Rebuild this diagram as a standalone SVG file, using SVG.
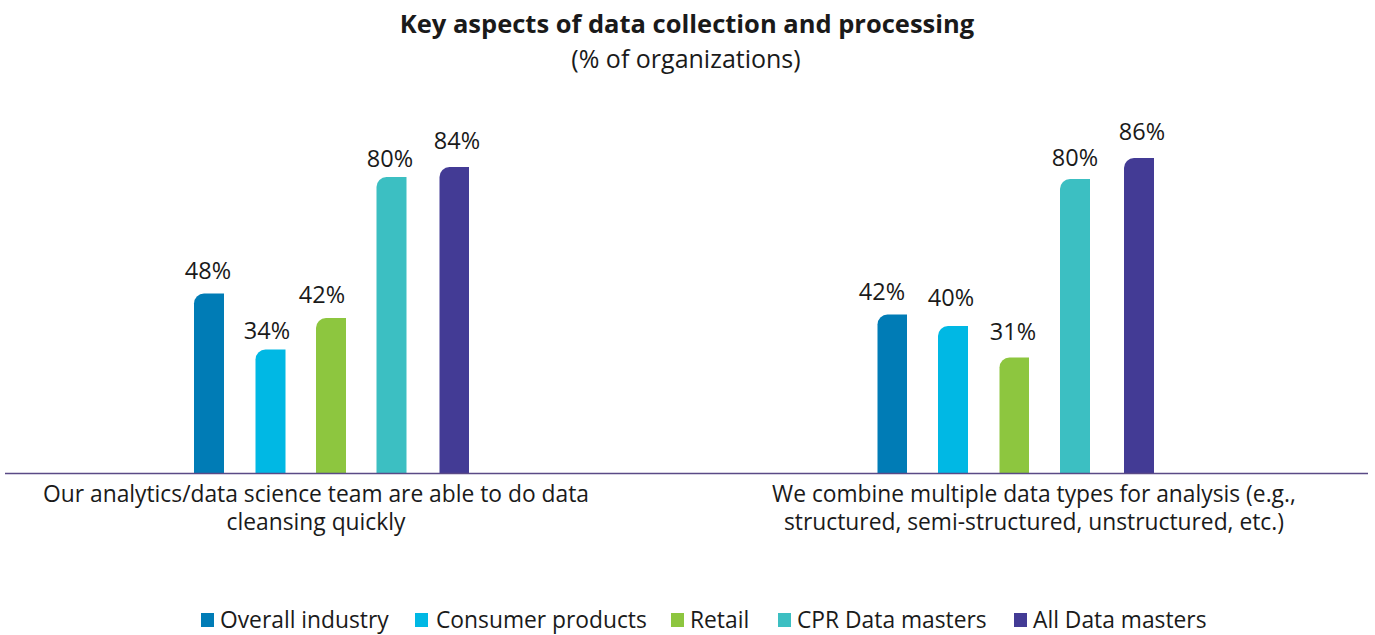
<svg xmlns="http://www.w3.org/2000/svg" width="1375" height="635" viewBox="0 0 1375 635">
<style>
text{font-family:"Open Sans","Noto Sans","Liberation Sans",sans-serif;fill:#1a1a1a}
.t{font-size:25.5px;font-weight:bold}
.s{font-size:25px}
.v{font-size:23.5px;text-anchor:middle}
.c{font-size:22.8px;text-anchor:middle}
.l{font-size:22.8px}
.c1{fill:#007cb6}.c2{fill:#00b8e4}.c3{fill:#8dc63f}.c4{fill:#3cbfc2}.c5{fill:#433b95}
</style>
<rect width="1375" height="635" fill="#ffffff"/>
<g id="title">
<text class="t" x="687" y="33" text-anchor="middle">Key aspects of data collection and processing</text>
<text class="s" x="686" y="67.5" text-anchor="middle">(% of organizations)</text>
</g>
<g id="group1">
<path class="c1" d="M194,473V303.5A10,10 0 0 1 204,293.5H224V473Z"/>
<path class="c2" d="M255.5,473V359.5A10,10 0 0 1 265.5,349.5H285.5V473Z"/>
<path class="c3" d="M316,473V328A10,10 0 0 1 326,318H346V473Z"/>
<path class="c4" d="M376.5,473V187A10,10 0 0 1 386.5,177H406.5V473Z"/>
<path class="c5" d="M439.5,473V177A10,10 0 0 1 449.5,167H469V473Z"/>
<text class="v" x="208" y="279">48%</text>
<text class="v" x="267" y="339">34%</text>
<text class="v" x="322" y="303">42%</text>
<text class="v" x="390" y="167">80%</text>
<text class="v" x="457" y="149">84%</text>
<text class="c" x="316" y="502">Our analytics/data science team are able to do data</text>
<text class="c" x="316" y="530">cleansing quickly</text>
</g>
<g id="group2">
<path class="c1" d="M877.5,473V324.5A10,10 0 0 1 887.5,314.5H907V473Z"/>
<path class="c2" d="M938,473V336A10,10 0 0 1 948,326H968V473Z"/>
<path class="c3" d="M999.5,473V367.5A10,10 0 0 1 1009.5,357.5H1029V473Z"/>
<path class="c4" d="M1060,473V189A10,10 0 0 1 1070,179H1090V473Z"/>
<path class="c5" d="M1124,473V168A10,10 0 0 1 1134,158H1154V473Z"/>
<text class="v" x="882" y="300">42%</text>
<text class="v" x="951" y="306">40%</text>
<text class="v" x="1013" y="340">31%</text>
<text class="v" x="1075" y="166">80%</text>
<text class="v" x="1142" y="140">86%</text>
<text class="c" x="1034" y="502">We combine multiple data types for analysis (e.g.,</text>
<text class="c" x="1034" y="530">structured, semi-structured, unstructured, etc.)</text>
</g>
<g id="axis">
<line x1="5" y1="473.5" x2="1368" y2="473.5" stroke="#5a4a86" stroke-width="1.5"/>
</g>
<g id="legend">
<rect class="c1" x="201" y="613" width="13" height="14"/>
<text class="l" x="220" y="628">Overall industry</text>
<rect class="c2" x="415" y="613" width="13" height="14"/>
<text class="l" x="436" y="628">Consumer products</text>
<rect class="c3" x="671" y="613" width="13" height="14"/>
<text class="l" x="690" y="628">Retail</text>
<rect class="c4" x="778" y="613" width="13" height="14"/>
<text class="l" x="797" y="628">CPR Data masters</text>
<rect class="c5" x="1014" y="613" width="13" height="14"/>
<text class="l" x="1033" y="628">All Data masters</text>
</g>
</svg>
